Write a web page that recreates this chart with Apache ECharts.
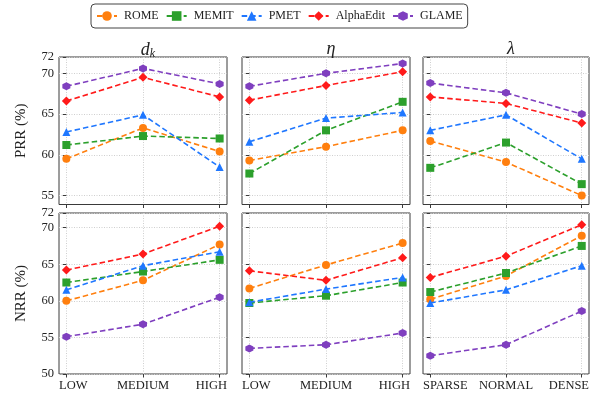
<!DOCTYPE html>
<html>
<head>
<meta charset="utf-8">
<script src="https://cdn.jsdelivr.net/npm/echarts@6/dist/echarts.min.js"></script>
<style>html,body{margin:0;padding:0;background:#fff;}#c{width:597px;height:394px;}</style>
</head>
<body>
<div id="c"></div>
<script>
// ---- data ----
const methods = ['ROME', 'MEMIT', 'PMET', 'AlphaEdit', 'GLAME'];
const catsDk = ['LOW', 'MEDIUM', 'HIGH'];
const catsEta = ['LOW', 'MEDIUM', 'HIGH'];
const catsLambda = ['SPARSE', 'NORMAL', 'DENSE'];
const panelTitles = ['d_k', 'η', 'λ'];
const prrTicks = [55, 60, 65, 70, 72];
const nrrTicks = [50, 55, 60, 65, 70, 72];

// PRR (%) per method: [d_k], [eta], [lambda]
const romePRR      = [[59.5, 63.3, 60.4], [59.3, 61.0, 63.0], [61.7, 59.1, 55.0]];
const memitPRR     = [[61.2, 62.3, 62.0], [57.7, 63.0, 66.5], [58.4, 61.5, 56.4]];
const pmetPRR      = [[62.8, 64.9, 58.5], [61.6, 64.5, 65.2], [63.0, 64.9, 59.5]];
const alphaEditPRR = [[66.6, 69.5, 67.1], [66.7, 68.5, 70.2], [67.1, 66.3, 63.9]];
const glamePRR     = [[68.4, 70.6, 68.7], [68.4, 70.0, 71.2], [68.8, 67.6, 65.0]];

// NRR (%)
const romeNRR      = [[60.0, 62.8, 67.7], [61.7, 64.9, 67.9], [60.2, 63.4, 68.9]];
const memitNRR     = [[62.5, 64.0, 65.6], [59.7, 60.7, 62.5], [61.2, 63.8, 67.5]];
const pmetNRR      = [[61.5, 64.8, 66.7], [59.8, 61.6, 63.2], [59.7, 61.5, 64.8]];
const alphaEditNRR = [[64.2, 66.4, 70.2], [64.1, 62.8, 65.9], [63.2, 66.1, 70.4]];
const glameNRR     = [[55.1, 56.8, 60.5], [53.5, 54.0, 55.6], [52.5, 54.0, 58.6]];

// ---- styles ----
const FONT = 'Liberation Serif';
const LABEL_SIZE = 12.5;
const colors = ['#ff7f0e', '#2ca02c', '#1f77ff', '#ff1a1a', '#7f3fbf'];
const symbols = [
  'circle',
  'rect',
  'triangle',
  'path://M0,-1 L1,0 L0,1 L-1,0 Z',
  'path://M0,-1 L0.866,-0.5 L0.866,0.5 L0,1 L-0.866,0.5 L-0.866,-0.5 Z'
];
const symSizes = [8, 8, 8, 9, 8];
const prrData = [romePRR, memitPRR, pmetPRR, alphaEditPRR, glamePRR];
const nrrData = [romeNRR, memitNRR, pmetNRR, alphaEditNRR, glameNRR];
const catSets = [catsDk, catsEta, catsLambda];

const colLeft = [59, 242, 423];
const colWidth = [168, 168, 166];
const rowTop = [57, 213];
const rowHeight = [147.5, 161];
const X_MIN = -0.096, X_MAX = 2.096;

const mctx = document.createElement('canvas').getContext('2d');
mctx.font = LABEL_SIZE + 'px "' + FONT + '"';

const grids = [], xAxes = [], yAxes = [], series = [], titles = [];
for (let r = 0; r < 2; r++) {
  for (let c = 0; c < 3; c++) {
    const idx = r * 3 + c;
    grids.push({
      left: colLeft[c], top: rowTop[r], width: colWidth[c], height: rowHeight[r],
      show: true, borderColor: '#3a3a3a', borderWidth: 1, backgroundColor: 'transparent'
    });
    const cats = catSets[c];
    // keep labels inside the panel's horizontal extent
    const rich = {};
    cats.forEach((name, i) => {
      const px = colLeft[c] + colWidth[c] * (i - X_MIN) / (X_MAX - X_MIN);
      const w = mctx.measureText(name).width;
      const shift = Math.max(0, colLeft[c] - (px - w / 2)) - Math.max(0, (px + w / 2) - (colLeft[c] + colWidth[c]));
      rich['p' + i] = {
        fontFamily: FONT, fontSize: LABEL_SIZE, color: '#222',
        padding: shift >= 0 ? [0, 0, 0, 2 * shift] : [0, -2 * shift, 0, 0]
      };
    });
    xAxes.push({
      type: 'value', gridIndex: idx, min: X_MIN, max: X_MAX,
      axisLine: { show: false },
      axisTick: { show: true, customValues: [0, 1, 2], length: 3.5, lineStyle: { color: '#3a3a3a' } },
      axisLabel: {
        show: r === 1, customValues: [0, 1, 2],
        formatter: v => { const i = Math.round(v); return cats[i] ? '{p' + i + '|' + cats[i] + '}' : ''; },
        rich: rich, fontFamily: FONT, fontSize: LABEL_SIZE, color: '#222', margin: 5
      },
      splitLine: { show: true, lineStyle: { color: '#cfcfcf', type: [1, 1.5], width: 1 } }
    });
    const ticks = r === 0 ? prrTicks : nrrTicks;
    yAxes.push({
      type: 'value', gridIndex: idx,
      min: r === 0 ? 53.9 : 50, max: 72,
      name: c === 0 ? (r === 0 ? 'PRR (%)' : 'NRR (%)') : '',
      nameLocation: 'middle', nameGap: 30,
      nameTextStyle: { fontFamily: FONT, fontSize: 15, color: '#222' },
      axisLine: { show: false },
      axisTick: { show: true, customValues: ticks, length: 3.5, lineStyle: { color: '#3a3a3a' } },
      axisLabel: {
        show: c === 0, customValues: ticks, fontFamily: FONT, fontSize: LABEL_SIZE, color: '#222', margin: 5
      },
      splitLine: { show: true, lineStyle: { color: '#cfcfcf', type: [1, 1.5], width: 1 } }
    });
    const data = r === 0 ? prrData : nrrData;
    for (let m = 0; m < methods.length; m++) {
      series.push({
        name: methods[m], type: 'line', xAxisIndex: idx, yAxisIndex: idx,
        data: data[m][c].map((v, i) => [i, v]),
        symbol: symbols[m], symbolSize: symSizes[m],
        itemStyle: { color: colors[m] },
        lineStyle: { color: colors[m], type: [5.5, 3], width: 1.6 },
        emphasis: { disabled: true }, animation: false, z: 3 + m
      });
    }
  }
}
for (let c = 0; c < 3; c++) {
  const t = panelTitles[c];
  const text = t === 'd_k' ? '{i|d}{s|k}' : '{i|' + t + '}';
  titles.push({
    text: text, left: colLeft[c] + colWidth[c] / 2, top: 35, textAlign: 'center',
    textStyle: {
      fontWeight: 'normal',
      rich: {
        i: { fontFamily: FONT, fontStyle: 'italic', fontWeight: 'normal', fontSize: 18, color: '#222' },
        s: { fontFamily: FONT, fontStyle: 'italic', fontWeight: 'normal', fontSize: 12, color: '#222', padding: [8, 0, 0, 0] }
      }
    }
  });
}

const chart = echarts.init(document.getElementById('c'), null, { renderer: 'canvas' });
chart.setOption({
  backgroundColor: '#fff',
  animation: false,
  title: titles,
  legend: {
    data: methods, top: 4, left: 91,
    itemWidth: 20, itemHeight: 12, itemGap: 7,
    padding: [6, 5, 6, 5],
    borderColor: '#444', borderWidth: 1, borderRadius: 4,
    textStyle: { fontFamily: FONT, fontSize: 12, color: '#222', padding: [0, 0, 0, 2] }
  },
  grid: grids, xAxis: xAxes, yAxis: yAxes, series: series
});
</script>
</body>
</html>
